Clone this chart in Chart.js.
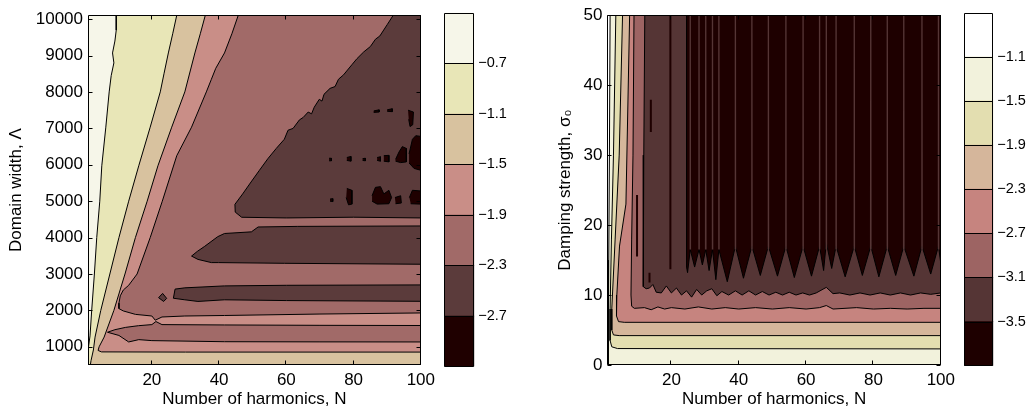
<!DOCTYPE html>
<html>
<head>
<meta charset="utf-8">
<script src="https://cdn.jsdelivr.net/npm/chart.js@4.4.0/dist/chart.umd.min.js"></script>
<style>
  html, body { margin: 0; padding: 0; background: #fff; }
  #fig { position: relative; width: 1033px; height: 416px; overflow: hidden; }
  #fig canvas { position: absolute; top: 0; }
</style>
</head>
<body>
<div id="fig">
  <canvas id="left" width="440" height="416" style="left:0px"></canvas>
  <canvas id="leftBar" width="110" height="416" style="left:430px"></canvas>
  <canvas id="right" width="420" height="416" style="left:540px"></canvas>
  <canvas id="rightBar" width="83" height="416" style="left:950px"></canvas>
</div>
<script>
// ---- axes / ticks ----
const harmonicTicks = [20, 40, 60, 80, 100];
const lambdaTicks = [1000, 2000, 3000, 4000, 5000, 6000, 7000, 8000, 9000, 10000];
const sigmaTicks = [0, 10, 20, 30, 40, 50];

// ---- contour levels and colours (lowest band first) ----
const leftLevels = [-2.7, -2.3, -1.9, -1.5, -1.1, -0.7];
const leftColors = ['#1f0000', '#5b3b3b', '#a16a68', '#c98e87', '#d8c29f', '#e8e6b7', '#f6f6e9'];
const rightLevels = [-3.5, -3.1, -2.7, -2.3, -1.9, -1.5, -1.1];
const rightColors = ['#1e0000', '#553535', '#9d6463', '#c6847f', '#d5b69b', '#e3deb0', '#f2f2dc', '#ffffff'];

// ---- left panel: regions below each level, [N, Lambda] ----
const leftFrame = [[1, 500], [1, 10110], [100, 10110], [100, 500]];
const leftBelow07 = [[9.4,10110],[9.4,9700],[9.0,9400],[8.3,9073],[8.7,8800],[7.9,8450],[7.3,8003],[6.3,7034],[5.1,5973],[4.5,5000],[3.6,4000],[2.9,3000],[2.1,2000],[1.6,1300],[1,900],[1,500],[100,500],[100,10110]];
const leftBelow11 = [[27.4,10110],[26.2,9600],[24.9,9073],[23.6,8500],[22.5,8003],[19.5,7034],[16.1,5973],[13.1,5000],[10.2,4000],[7.5,3000],[4.8,2000],[3.1,1267],[2.6,912],[1.9,620],[1.7,500],[100,500],[100,10110]];
const leftBelow15 = [[35.9,10110],[34.4,9600],[32.8,9073],[29.8,8003],[25.9,7034],[21.8,5973],[18.6,5000],[15.1,4000],[12.0,3000],[8.7,2000],[5.8,1267],[4.3,1000],[4.0,900],[5.0,860],[30,855],[100,855],[100,10110]];
const leftBelow19a = [[45.7,10110],[43.8,9600],[41.6,9073],[39,8650],[37.7,8350],[36.2,8003],[31.8,7034],[27.4,6250],[23.1,5000],[19.5,4000],[15.6,3000],[13.1,2690],[11.5,2560],[10.6,2400],[10.2,2200],[10.2,2050],[11.5,1985],[15.1,1891],[20,1846],[21,1731],[23,1819],[29.8,1846],[41.6,1860],[70,1900],[100,1930],[100,10110]];
const leftBelow19b = [[6.8,1400],[9,1470],[12.2,1534],[16,1580],[20,1610],[21.2,1694],[23,1610],[41.6,1600],[70,1590],[100,1585],[100,1133],[70,1135],[41.6,1140],[20,1170],[16.1,1197],[13.1,1133],[10.2,1312],[6.8,1400]];
const leftBelow23a = [[91.8,10110],[90,9850],[87.8,9538],[86.5,9450],[85,9250],[83,9100],[81,8916],[79.5,8750],[77,8470],[75.5,8350],[74.5,8150],[73,8100],[71.2,7937],[70.6,7750],[69.8,7800],[68.3,7582],[67.5,7400],[66.5,7450],[65,7300],[63.9,7235],[62,7000],[60.5,6950],[59.4,6702],[57,6450],[54.5,6168],[52,5850],[49.5,5528],[47,5200],[44.7,4914],[44.8,4700],[46.7,4559],[60,4540],[80,4560],[100,4540],[100,10110]];
const leftBelow23b = [[31.8,3492],[33.5,3620],[35.7,3759],[39.6,4026],[41.6,4113],[49.6,4158],[51.6,4292],[63.4,4308],[100,4320],[100,3268],[59.4,3294],[39.8,3313],[37.7,3313],[33.7,3401],[31.8,3492]];
const leftBelow23c = [[26.4,2334],[26.9,2585],[29.8,2620],[41.6,2673],[60,2690],[100,2700],[100,2250],[60,2270],[41.6,2291],[33.7,2246],[29.8,2291],[26.4,2334]];
const leftBelow23d = [[22,2350],[23.2,2467],[24.4,2330],[23.5,2245],[22,2350]];
const leftBelow27 = [
  [[96.2,7500],[97.8,7450],[97.6,7100],[96.8,7050],[96.4,7250]],
  [[86,7480],[87.6,7510],[87.6,7450],[86,7440]],
  [[90,7510],[91.5,7540],[91.5,7460],[90,7470]],
  [[72.7,6180],[73.4,6180],[73.4,6110],[72.7,6110]],
  [[78,6200],[79.2,6230],[79.2,6100],[78,6120]],
  [[82.7,6170],[83.5,6180],[83.5,6110],[82.7,6120]],
  [[87,6200],[88,6220],[88,6100],[87,6120]],
  [[89,6250],[90.5,6260],[90.5,6080],[89,6100]],
  [[92.5,6150],[93.5,6350],[94.5,6500],[95.7,6450],[95.7,6080],[94,6060],[92.5,6100]],
  [[96.5,6300],[97.5,6700],[98.5,6800],[100,6780],[100,5850],[98,5900],[96.5,6050]],
  [[73,5060],[73.8,5070],[73.8,4990],[73,5000]],
  [[78,5350],[79.5,5300],[79.5,4920],[78.5,4900],[77.8,5100]],
  [[85.5,5150],[86.5,5380],[88,5400],[89,5200],[90.5,5300],[91.3,5100],[90.5,4930],[87,4920],[85.5,5000]],
  [[92.3,5100],[94,5150],[94.2,4950],[92.5,4930]],
  [[96.6,5100],[97.5,5300],[100,5280],[100,4920],[97,4930]]
];

// ---- right panel: regions below each level, [N, sigma0] ----
const rightBelow11 = [[1.8,50],[1.6,30],[1.4,15],[1.3,5],[1.2,0],[100,0],[100,50]];
const rightBelow15 = [[3.5,50],[2.8,30],[2.2,18],[1.8,8],[1.8,3.5],[2.3,2.6],[4,2.35],[100,2.3],[100,50]];
const rightBelow19 = [[5.5,50],[4.5,30],[3.3,18],[2.3,8],[2.3,5],[2.8,4.3],[4.5,4.2],[100,4.2],[100,50]];
const rightBelow23 = [[7.6,50],[6.5,23],[4.6,17],[3.8,10],[3.7,7],[4.3,6.2],[6,6.1],[100,6.1],[100,50]];
const rightBelow27 = [[8.9,50],[8.6,30],[8.2,18],[8.0,10],[8.2,8.4],[9,8.1],[12,8.2],[14,7.9],[16,8.3],[18,8.0],[20,8.2],[24,8.0],[28,8.3],[32,8.0],[36,8.2],[40,8.0],[45,8.2],[50,8.0],[55,8.2],[60,8.0],[64,8.2],[66,8.5],[68,8.0],[75,8.2],[80,8.0],[85,8.1],[90,8.0],[95,8.1],[100,8.1],[100,50]];
const rightBelow31 = [[12.1,50],[11.8,30],[11.6,13],[11.7,11.2],[12.5,10.9],[13.5,11],[14.5,11.5],[15.5,10.4],[17,10.3],[18.5,11.3],[20,10.3],[21.5,11],[23,10],[24.5,10.6],[26,9.7],[27.5,10.8],[29,10],[30.5,10.6],[32,10.9],[33.5,9.9],[35,10.5],[37,10],[39,10.6],[41,10],[43,10.6],[45,10],[47,10.5],[49,10],[51,10.4],[53,10],[55,10.4],[57,10],[59,10.3],[61,10],[63,10.3],[66,11.1],[68,10.2],[70,10.3],[73,10.0],[76,10.3],[79,10],[82,10.3],[85,10.0],[88,10.3],[91,10],[94,10.3],[97,10.1],[100,10.3],[100,50]];
const rightBelow35 = [[100,50],[100,14.5],[99.3,17],[97,13],[94.4,17],[92,12.7],[89,17],[86.6,12.8],[84.1,17],[81.6,12.6],[79.2,17],[76.7,12.8],[74.3,17],[71.6,12.6],[68.9,17],[67.6,13.8],[66,17.5],[65.2,13.5],[64,17],[61.6,12.7],[59.1,17],[56.5,12.5],[54,17],[51.5,12.7],[48.8,17],[46.4,12.8],[43.9,17],[41.4,12.4],[39,17],[36.6,11.9],[34.1,16.5],[33.2,12.2],[32.2,16.5],[31.2,13.5],[30.2,16.5],[29.2,14.3],[28.2,16.5],[26.9,14],[25.6,16.5],[24.8,13.2],[24.5,14],[24.5,50]];
// thin slivers above -3.5 that run up to the top edge
const rightStripeN = [25.6, 28.2, 30.2, 32.2, 34.1, 39.0, 43.9, 48.8, 54.0, 59.1, 64.0, 66.0, 68.9, 74.3, 79.2, 84.1, 89.0, 94.4, 99.3];
// thin slivers below -3.5 inside the -3.1 band
const rightSlivers = [
  [[19.7,13.7],[19.7,50]],
  [[13.9,33.3],[13.9,37.9]],
  [[9.8,15.5],[9.8,24.3]],
  [[13.5,11.8],[13.5,13.2]]
];

const FONT = "'Liberation Sans', Arial, Helvetica, sans-serif";
Chart.defaults.font.family = FONT;
Chart.defaults.color = '#000';

const frame = {
  id: 'frame',
  afterDatasetsDraw(chart, args, opts) {
    const {ctx, chartArea: a} = chart;
    const L = Math.round(a.left) + 0.5, R = Math.round(a.right) - 0.5;
    const T = Math.round(a.top) + 0.5, B = Math.round(a.bottom) - 0.5;
    const len = 4;
    ctx.save();
    ctx.strokeStyle = '#000';
    ctx.lineWidth = 1;
    ctx.beginPath();
    if (opts.ticks) {
      const sx = chart.scales.x, sy = chart.scales.y;
      sx.ticks.forEach(t => {
        const p = Math.round(sx.getPixelForValue(t.value)) - 0.5;
        ctx.moveTo(p, B); ctx.lineTo(p, B - len);
        ctx.moveTo(p, T); ctx.lineTo(p, T + len);
      });
      sy.ticks.forEach(t => {
        const p = Math.round(sy.getPixelForValue(t.value)) + 0.5;
        ctx.moveTo(L, p); ctx.lineTo(L + len, p);
        ctx.moveTo(R, p); ctx.lineTo(R - len, p);
      });
    }
    if (opts.levels) {
      chart.scales.y.ticks.forEach(t => {
        const p = Math.round(chart.scales.y.getPixelForValue(t.value)) + 0.5;
        ctx.moveTo(L, p); ctx.lineTo(R, p);
      });
    }
    ctx.rect(L, T, R - L, B - T);
    ctx.stroke();
    ctx.restore();
  }
};
Chart.register(frame);

function poly(points, color, stroke = true) {
  return {
    data: points.map(p => ({x: p[0], y: p[1]})),
    showLine: true, fill: 'shape', tension: 0,
    backgroundColor: color,
    borderColor: stroke ? '#000' : 'rgba(0,0,0,0)',
    borderWidth: stroke ? 1 : 0,
    pointRadius: 0, pointHoverRadius: 0
  };
}

function line(points, color, width) {
  return {
    data: points.map(p => ({x: p[0], y: p[1]})),
    showLine: true, fill: false, tension: 0,
    borderColor: color, borderWidth: width,
    pointRadius: 0, pointHoverRadius: 0
  };
}

function contour(id, layers, cfg) {
  new Chart(document.getElementById(id), {
    type: 'scatter',
    // chart.js paints dataset 0 last, so reverse the painter's order
    data: {datasets: layers.slice().reverse()},
    options: {
      responsive: false, animation: false, devicePixelRatio: 1, events: [],
      layout: {padding: cfg.padding},
      plugins: {legend: {display: false}, tooltip: {enabled: false}, frame: {ticks: true}},
      scales: {
        x: {
          type: 'linear', min: 1, max: 100,
          afterBuildTicks: s => { s.ticks = harmonicTicks.map(v => ({value: v})); },
          afterFit: s => { s.height = 51; },
          grid: {display: false, drawTicks: false}, border: {display: false},
          ticks: {font: {size: 17}, padding: 5, maxRotation: 0, autoSkip: false, callback: v => String(v)},
          title: {display: true, text: 'Number of harmonics, N', font: {size: 17}, padding: {top: 0, bottom: 6}}
        },
        y: {
          type: 'linear', min: cfg.yMin, max: cfg.yMax,
          afterBuildTicks: s => { s.ticks = cfg.yTicks.map(v => ({value: v})); },
          afterFit: s => { s.width = cfg.yWidth; },
          grid: {display: false, drawTicks: false}, border: {display: false},
          ticks: {font: {size: 17}, padding: 5, autoSkip: false, callback: v => String(v)},
          title: {display: true, text: cfg.yTitle, font: {size: 17}, padding: {top: cfg.titlePad, bottom: 0}}
        }
      }
    }
  });
}

function minus(v) {
  return (v < 0 ? '\u2212' : '') + Math.abs(v).toFixed(1);
}

function colorbar(id, levels, colors, lo, hi, cfg) {
  const edges = [lo, ...levels, hi];
  new Chart(document.getElementById(id), {
    type: 'bar',
    data: {
      labels: [''],
      datasets: colors.map((c, i) => ({
        data: [[edges[i], edges[i + 1]]],
        backgroundColor: c, borderWidth: 0,
        barPercentage: 1, categoryPercentage: 1, grouped: false
      }))
    },
    options: {
      responsive: false, animation: false, devicePixelRatio: 1, events: [],
      layout: {padding: cfg.padding},
      plugins: {legend: {display: false}, tooltip: {enabled: false}, frame: {levels: true}},
      scales: {
        x: {display: false},
        y: {
          position: 'right', min: lo, max: hi,
          afterBuildTicks: s => { s.ticks = levels.map(v => ({value: v})); },
          afterFit: s => { s.width = cfg.width; },
          grid: {display: false, drawTicks: false}, border: {display: false},
          ticks: {font: {size: 14.5}, padding: 4, autoSkip: false, callback: v => minus(v)}
        }
      }
    }
  });
}

// left panel
const leftLayers = [
  poly(leftFrame, leftColors[6], false),
  poly(leftBelow07, leftColors[5]),
  poly(leftBelow11, leftColors[4]),
  poly(leftBelow15, leftColors[3]),
  poly(leftBelow19a, leftColors[2]),
  poly(leftBelow19b, leftColors[2]),
  poly(leftBelow23a, leftColors[1]),
  poly(leftBelow23b, leftColors[1]),
  poly(leftBelow23c, leftColors[1]),
  poly(leftBelow23d, leftColors[1]),
  ...leftBelow27.map(b => poly(b, leftColors[0]))
];
contour('left', leftLayers, {
  padding: {left: 0, right: 15, top: 5, bottom: 0},
  yMin: 500, yMax: 10110, yTicks: lambdaTicks, yWidth: 88,
  yTitle: 'Domain width, \u039B', titlePad: 6
});
colorbar('leftBar', leftLevels, leftColors, -3.1, -0.3, {
  padding: {left: 14.3, right: 0, top: 5, bottom: 49.5}, width: 65.7
});

// right panel
const rightLayers = [
  poly(rightBelow11, rightColors[6]),
  poly(rightBelow15, rightColors[5]),
  poly(rightBelow19, rightColors[4]),
  poly(rightBelow23, rightColors[3]),
  poly(rightBelow27, rightColors[2]),
  poly(rightBelow31, rightColors[1]),
  poly(rightBelow35, rightColors[0]),
  ...rightStripeN.map(n => poly([[n - 0.25, 16.5], [n - 0.2, 50], [n + 0.2, 50], [n + 0.25, 16.5]], rightColors[1], false)),
  ...rightSlivers.map(s => line(s, rightColors[0], 2))
];
contour('right', rightLayers, {
  padding: {left: 0, right: 15.7, top: 5, bottom: 0},
  yMin: 0, yMax: 50, yTicks: sigmaTicks, yWidth: 67.4,
  yTitle: 'Damping strength, \u03C3\u2080', titlePad: 14.8
});
colorbar('rightBar', rightLevels, rightColors, -3.9, -0.7, {
  padding: {left: 14, right: 0, top: 5, bottom: 50.3}, width: 39.7
});
</script>
</body>
</html>
